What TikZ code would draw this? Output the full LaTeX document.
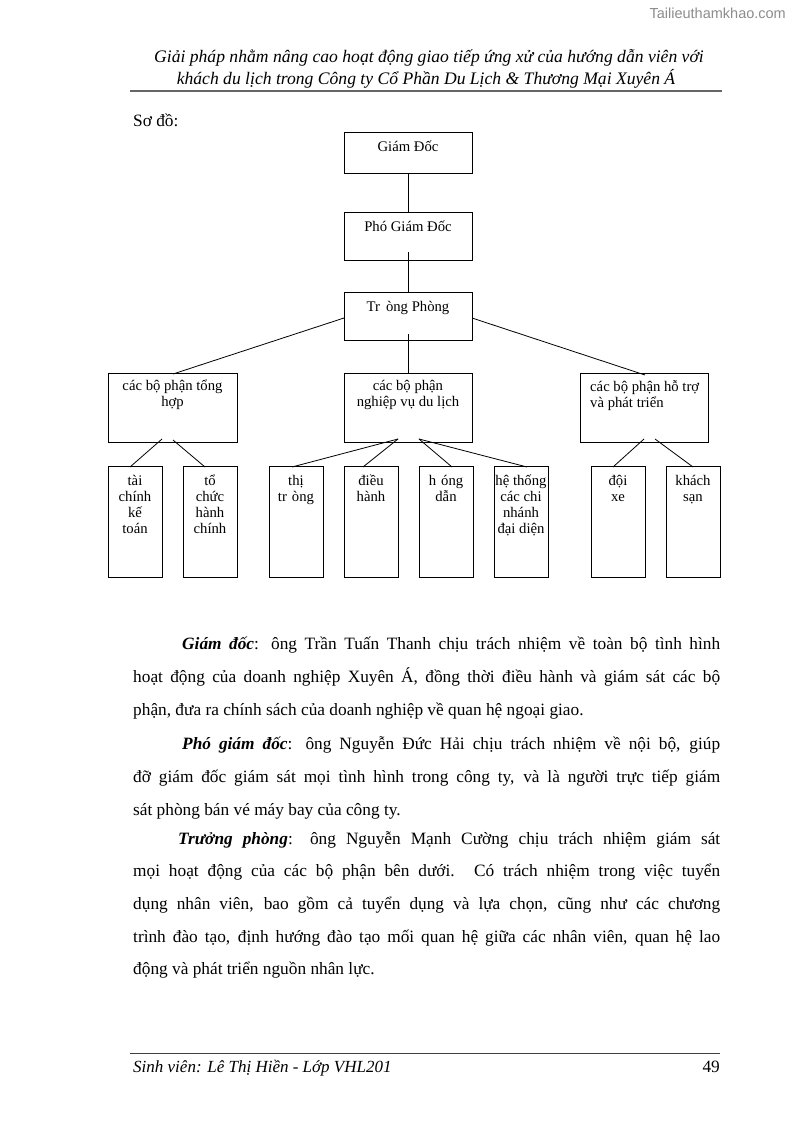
\documentclass[tikz,border=0pt]{standalone}
\usepackage{fontspec}
\setmainfont{Liberation Serif}
\newfontfamily\wmfont{Liberation Sans}
\usetikzlibrary{calc}
\begin{document}
\begin{tikzpicture}[x=1pt,y=-1pt,
  box/.style={draw, line width=0.8pt, fill=white, inner sep=0pt, outer sep=0pt, anchor=north west},
  topbox/.style={box, minimum width=128pt, minimum height=41pt},
  pbox/.style={box, minimum width=128pt, minimum height=48pt},
  midbox/.style={box, minimum width=129pt, minimum height=69pt},
  botbox/.style={box, minimum width=54pt, minimum height=111pt},
  lbl/.style={inner sep=0pt, font=\fontsize{14.7}{16}\selectfont, align=center, anchor=north},
  conn/.style={line width=0.8pt},
  body/.style={inner sep=0pt, anchor=base west, font=\fontsize{17.3}{20}\selectfont},
  hdr/.style={inner sep=0pt, anchor=base, font=\fontsize{17.6}{20}\selectfont\itshape},
  rulel/.style={line width=1.2pt, draw=black!60},
]
\useasboundingbox (0,0) rectangle (794,1123);

% watermark
\node[inner sep=0pt, anchor=base east, font=\wmfont\fontsize{14.5}{16}\selectfont, text=black!45] (wm) at (786,19) {Tailieuthamkhao.com};

% header
\node[hdr] (h1) at (429,63) {Giải pháp nhằm nâng cao hoạt động giao tiếp ứng xử của hướng dẫn viên với};
\node[hdr] (h2) at (426,85) {khách du lịch trong Công ty Cổ Phần Du Lịch \& Thương Mại Xuyên Á};
\coordinate (hr1) at (130,91);
\coordinate (hr2) at (722,91);
\draw[rulel] (hr1) -- (hr2);

\node[body] (so) at (133,127) {Sơ đồ:};

% boxes
\node[topbox] (gd) at (344,132) {};
\node[pbox] (pgd) at (344,212) {};
\node[pbox] (tp) at (344,292) {};
\node[midbox] (ml) at (108,373) {};
\node[midbox, minimum width=128pt] (mc) at (344,373) {};
\node[midbox, minimum width=128pt] (mr) at (580,373) {};
\node[botbox] (b1) at (108,466) {};
\node[botbox] (b2) at (183,466) {};
\node[botbox] (b3) at (269,466) {};
\node[botbox] (b4) at (344,466) {};
\node[botbox] (b5) at (419,466) {};
\node[botbox] (b6) at (494,466) {};
\node[botbox] (b7) at (591,466) {};
\node[botbox] (b8) at (666,466) {};

% labels
\node[lbl] (lgd) at ($(gd.north)+(0,9)$) {Giám Đốc};
\node[lbl] (lpgd) at ($(pgd.north)+(0,9)$) {Phó Giám Đốc};
\node[lbl] (ltp) at ($(tp.north)+(0,9)$) {Tr\hspace{6pt}òng Phòng};
\node[lbl] (lml) at ($(ml.north)+(0,7)$) {các bộ phận tổng\\hợp};
\node[lbl] (lmc) at ($(mc.north)+(0,7)$) {các bộ phận\\nghiệp vụ du lịch};
\node[lbl, anchor=north west, align=left] (lmr) at ($(mr.north west)+(10,7)$) {các bộ phận hỗ trợ\\và phát triển};
\node[lbl] (lb1) at ($(b1.north)+(0,9)$) {tài\\chính\\kế\\toán};
\node[lbl] (lb2) at ($(b2.north)+(0,9)$) {tổ\\chức\\hành\\chính};
\node[lbl] (lb3) at ($(b3.north)+(0,9)$) {thị\\tr\hspace{5pt}òng};
\node[lbl] (lb4) at ($(b4.north)+(0,9)$) {điều\\hành};
\node[lbl] (lb5) at ($(b5.north)+(0,9)$) {h\hspace{5pt}óng\\dẫn};
\node[lbl] (lb6) at ($(b6.north)+(0,9)$) {hệ thống\\các chi\\nhánh\\đại diện};
\node[lbl] (lb7) at ($(b7.north)+(0,9)$) {đội\\xe};
\node[lbl] (lb8) at ($(b8.north)+(0,9)$) {khách\\sạn};

% connectors
\draw[conn] (gd.south) -- (pgd.north);
\draw[conn] ($(pgd.south)+(0,-8)$) -- (tp.north);
\draw[conn] ($(tp.south)+(0,-6)$) -- ($(mc.north)+(0,1)$);
\draw[conn] ($(tp.north west)+(0,26)$) -- ($(ml.north west)+(65,1)$);
\draw[conn] ($(tp.north east)+(0,26)$) -- ($(mr.north west)+(65,2)$);
\draw[conn] ($(ml.south west)+(54,-3)$) -- ($(b1.north west)+(22,1)$);
\draw[conn] ($(ml.south west)+(65,-2)$) -- ($(b2.north west)+(22,1)$);
\draw[conn] ($(mc.south west)+(54,-3)$) -- ($(b3.north west)+(23,1)$);
\draw[conn] ($(mc.south west)+(54,-3)$) -- ($(b4.north west)+(19,1)$);
\draw[conn] ($(mc.south west)+(75,-3)$) -- ($(b5.north west)+(33,1)$);
\draw[conn] ($(mc.south west)+(75,-3)$) -- ($(b6.north west)+(33,1)$);
\draw[conn] ($(mr.south west)+(64,-3)$) -- ($(b7.north west)+(22,1)$);
\draw[conn] ($(mr.south west)+(75,-3)$) -- ($(b8.north west)+(27,1)$);

% body text
\node[body] (p1a) at (182,649) {\makebox[538pt][s]{\textbf{\textit{Giám đốc}}: ông Trần Tuấn Thanh chịu trách nhiệm về toàn bộ tình hình}};
\node[body] (p1b) at (133,682) {\makebox[587pt][s]{hoạt động của doanh nghiệp Xuyên Á, đồng thời điều hành và giám sát các bộ}};
\node[body] (p1c) at (133,715) {phận, đưa ra chính sách của doanh nghiệp về quan hệ ngoại giao.};
\node[body] (p2a) at (182,749) {\makebox[538pt][s]{\textbf{\textit{Phó giám đốc}}: ông Nguyễn Đức Hải chịu trách nhiệm về nội bộ, giúp}};
\node[body] (p2b) at (133,782) {\makebox[587pt][s]{đỡ giám đốc giám sát mọi tình hình trong công ty, và là người trực tiếp giám}};
\node[body] (p2c) at (133,815) {sát phòng bán vé máy bay của công ty.};
\node[body] (p3a) at (178,844) {\makebox[542pt][s]{\textbf{\textit{Trưởng phòng}}: ông Nguyễn Mạnh Cường chịu trách nhiệm giám sát}};
\node[body] (p3b) at (133,876) {\makebox[587pt][s]{mọi hoạt động của các bộ phận bên dưới. Có trách nhiệm trong việc tuyển}};
\node[body] (p3c) at (133,909) {\makebox[587pt][s]{dụng nhân viên, bao gồm cả tuyển dụng và lựa chọn, cũng như các chương}};
\node[body] (p3d) at (133,942) {\makebox[587pt][s]{trình đào tạo, định hướng đào tạo mối quan hệ giữa các nhân viên, quan hệ lao}};
\node[body] (p3e) at (133,974) {động và phát triển nguồn nhân lực.};

% footer
\coordinate (fr1) at (130,1053);
\coordinate (fr2) at (720,1053);
\draw[line width=0.8pt, draw=black!75] (fr1) -- (fr2);
\node[body, font=\fontsize{17}{20}\selectfont\itshape] (ft) at (133,1072) {Sinh viên: Lê Thị Hiền - Lớp VHL201};
\node[body, anchor=base east] (pg) at (720,1072) {49};
\end{tikzpicture}
\end{document}
